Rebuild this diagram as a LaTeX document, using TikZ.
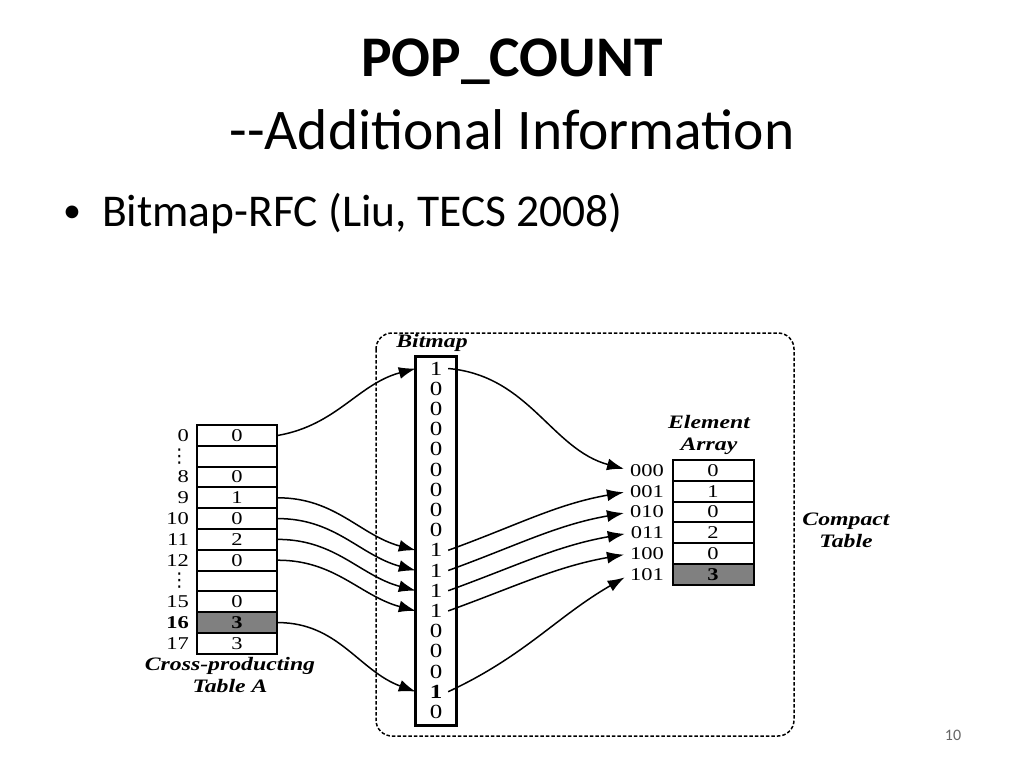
\documentclass[tikz,border=0pt]{standalone}
\usepackage{fontspec}
\setmainfont{Carlito}
\newfontfamily\figfont[FakeStretch=1.25]{Liberation Serif}
\newfontfamily\symfont{DejaVu Sans}
\usetikzlibrary{arrows.meta, positioning}

\begin{document}
\begin{tikzpicture}[x=1pt, y=1pt,
    cell/.style={draw, line width=2pt, minimum width=80pt, minimum height=20.8pt,
        inner sep=0pt, font=\figfont\fontsize{18}{18}\selectfont},
    hicell/.style={cell, fill=black!50},
    rowlab/.style={anchor=east, inner sep=0pt, font=\figfont\fontsize{18}{18}\selectfont},
    bit/.style={minimum width=40pt, minimum height=20.2pt, inner sep=0pt,
        font=\figfont\fontsize{20}{20}\selectfont},
    caption/.style={font=\figfont\bfseries\itshape\fontsize{19}{22}\selectfont, align=center},
    link/.style={-{Latex[length=17pt,width=12pt]}, line width=1.5pt},
]
\useasboundingbox[fill=white] (0,0) rectangle (1024,-768);

% slide title
\node[font=\bfseries\fontsize{57.5}{60}\selectfont] (title) at (512,-62) {POP\_COUNT};
\node[font=\fontsize{57.5}{60}\selectfont] (subtitle) at (512,-130) {-{}-Additional Information};
\node[font=\fontsize{36}{40}\selectfont] (dot) at (72,-214) {•};
\node[font=\fontsize{45.5}{48}\selectfont, anchor=west, inner sep=0pt] (item) at (102,-214)
    {Bitmap-RFC (Liu, TECS 2008)};
\node[font=\fontsize{16}{16}\selectfont, text=black!60] (page) at (953,-735) {10};

% compact table frame
\draw[dash pattern=on 3.5pt off 2pt, line width=1.5pt, rounded corners=16pt]
    (376,-333) rectangle (794,-736);

% cross-producting table
\foreach \lab/\val/\st [count=\i from 0] in {0/0/cell, {{\symfont\fontsize{19}{19}\selectfont ⋮}\hspace{0.5pt}}/{}/cell,
        8/0/cell, 9/1/cell, 10/0/cell, 11/2/cell, 12/0/cell,
        {{\symfont\fontsize{19}{19}\selectfont ⋮}\hspace{0.5pt}}/{}/cell, 15/0/cell,
        {\textbf{16}}/{\textbf{3}}/hicell, 17/3/cell} {
    \node[\st] (tab-\i) at (237, {-435.4-20.8*\i}) {\val};
    \node[rowlab] (lab-\i) at (189, {-435.4-20.8*\i}) {\lab};
}
\node[caption] (tabcap) at (230,-675) {Cross-producting\\Table A};

% bitmap
\foreach \b [count=\i from 0] in {1,0,0,0,0,0,0,0,0,1,1,1,1,0,0,0,\textbf{1},0}
    \node[bit] (bit-\i) at (436, {-368.5-20.2*\i}) {\b};
\draw[line width=2.8pt] ([yshift=1.4pt]bit-0.north west) rectangle ([yshift=-3pt]bit-17.south east);
\node[caption] (bitcap) at (432,-343) {Bitmap};

% element array
\foreach \c/\v/\st [count=\i from 0] in {000/0/cell, 001/1/cell, 010/0/cell,
        011/2/cell, 100/0/cell, 101/\textbf{3}/hicell} {
    \node[\st, minimum width=81pt] (elem-\i) at (713, {-470.4-20.8*\i}) {\v};
    \node[rowlab] (code-\i) at (664, {-470.4-20.8*\i}) {\c};
}
\node[caption] (elemcap) at (709,-435) {Element\\Array};
\node[caption] (compcap) at (846,-530) {Compact\\Table};

% table -> bitmap
\draw[link] (tab-0.east) to[out=10, in=195] (bit-0.west);
\draw[link] (tab-3.east) to[out=0, in=165] (bit-9.west);
\draw[link] (tab-4.east) to[out=0, in=165] (bit-10.west);
\draw[link] (tab-5.east) to[out=0, in=165] (bit-11.west);
\draw[link] (tab-6.east) to[out=0, in=165] (bit-12.west);
\draw[link] (tab-9.east) to[out=0, in=160] (bit-16.west);

% bitmap -> element array
\draw[link, shorten >=6pt] ([xshift=-8pt]bit-0.east) to[out=-5, in=165] (code-0.west);
\draw[link, shorten >=6pt] ([xshift=-8pt]bit-9.east) to[out=20, in=190] (code-1.west);
\draw[link, shorten >=6pt] ([xshift=-8pt]bit-10.east) to[out=20, in=190] (code-2.west);
\draw[link, shorten >=6pt] ([xshift=-8pt]bit-11.east) to[out=20, in=190] (code-3.west);
\draw[link, shorten >=6pt] ([xshift=-8pt]bit-12.east) to[out=20, in=190] (code-4.west);
\draw[link, shorten >=6pt] ([xshift=-8pt]bit-16.east) to[out=25, in=210] (code-5.west);

\end{tikzpicture}
\end{document}
